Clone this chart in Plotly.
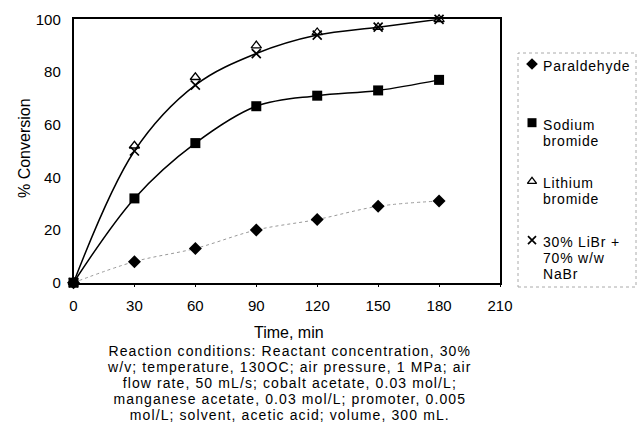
import plotly.graph_objects as go

time = [0, 30, 60, 90, 120, 150, 180]
paraldehyde = [0, 8, 13, 20, 24, 29, 31]
sodium_bromide = [0, 32, 53, 67, 71, 73, 77]
lithium_bromide = [0, 52, 78, 90, 95, 97, 100]
mix = [0, 50, 75, 87, 94, 97, 100]

x_ticks = [0, 30, 60, 90, 120, 150, 180, 210]
y_ticks = [0, 20, 40, 60, 80, 100]

legend_lines = [["Paraldehyde"], ["Sodium", "bromide"], ["Lithium", "bromide"], ["30% LiBr +", "70% w/w", "NaBr"]]

x_title = "Time, min"
caption_lines = ["Reaction conditions: Reactant concentration, 30%",
                 "w/v; temperature, 130OC; air pressure, 1 MPa; air",
                 "flow rate, 50 mL/s; cobalt acetate, 0.03 mol/L;",
                 "manganese acetate, 0.03 mol/L; promoter, 0.005",
                 "mol/L; solvent, acetic acid; volume, 300 mL."]

W, H = 639, 428
def px(x):
    return x / W
def py(y):
    return 1 - y / H

FONT = "Liberation Sans, Arial, sans-serif"
font = dict(family=FONT, size=16, color="black")
tickfont = dict(family=FONT, size=15, color="black")

def block(lines, glyph_px, spacing_px, ls_px):
    """multi-line text: line spacing from base font, glyph size / tracking from span style"""
    body = "<br>".join('<span style="font-size:%gpx;letter-spacing:%gpx">%s</span>' % (glyph_px, ls_px, t)
                       for t in lines)
    return body, dict(family=FONT, size=spacing_px / 1.3, color="black")

fig = go.Figure()
# fitted curves
fig.add_trace(go.Scatter(x=time, y=paraldehyde, mode="lines",
                         line=dict(color="#999", width=1, dash="dot", shape="spline", smoothing=1.0), showlegend=False))
fig.add_trace(go.Scatter(x=time, y=sodium_bromide, mode="lines",
                         line=dict(color="black", width=1.5, shape="spline", smoothing=1.0), showlegend=False))
fig.add_trace(go.Scatter(x=time, y=mix, mode="lines",
                         line=dict(color="black", width=1.5, shape="spline", smoothing=1.0), showlegend=False))

symbols = [dict(symbol="diamond", size=10, color="black"),
           dict(symbol="square", size=10, color="black"),
           dict(symbol="triangle-up-open", size=9, color="black", line=dict(width=1.3, color="black")),
           dict(symbol="x-thin-open", size=9, color="black", line=dict(width=1.7, color="black"))]
series = [paraldehyde, sodium_bromide, lithium_bromide, mix]
for s, m in zip(series, symbols):
    fig.add_trace(go.Scatter(x=time, y=s, mode="markers", marker=m, showlegend=False, cliponaxis=False))

# manual legend (second hidden axis in pixel units)
item_y0, item_pitch, line_h = 64, 58.7, 16
annotations = []
for i, (lines, m) in enumerate(zip(legend_lines, symbols)):
    yy = item_y0 + i * item_pitch
    m2 = dict(m)
    m2["size"] = m["size"] - 1
    fig.add_trace(go.Scatter(x=[532], y=[yy], mode="markers", marker=m2, showlegend=False,
                             xaxis="x2", yaxis="y2", cliponaxis=False))
    body, f = block(lines, 14, line_h, 0.8)
    annotations.append(dict(text=body, xref="paper", yref="paper", x=px(541), y=py(yy - 8),
                            xanchor="left", yanchor="top", align="left", showarrow=False, font=f))

annotations.append(dict(text=x_title, xref="paper", yref="paper", x=px(289), y=py(332),
                        xanchor="center", yanchor="middle", showarrow=False, font=font))
body, f = block(caption_lines, 14, 16, 1.1)
annotations.append(dict(text=body, xref="paper", yref="paper", x=px(289), y=py(341),
                        xanchor="center", yanchor="top", align="center", showarrow=False, font=f))

annotations.append(dict(text="% Conversion", textangle=-90, xref="paper", yref="paper", x=px(25), y=py(148),
                        xanchor="center", yanchor="middle", showarrow=False, font=font))

x0, x1, y0, y1 = 73.5, 500, 19.3, 282.7
fig.update_layout(
    width=W, height=H,
    margin=dict(l=0, r=0, t=0, b=0, autoexpand=False),
    paper_bgcolor="white", plot_bgcolor="white",
    font=font,
    showlegend=False,
    xaxis=dict(domain=[px(x0), px(x1)], range=[0, 210], tickvals=x_ticks, ticks="outside", ticklen=3,
               tickcolor="black", showline=True, linecolor="black", linewidth=1.5, mirror=True,
               showgrid=False, zeroline=False, tickfont=tickfont, ticklabelstandoff=6, automargin=False),
    yaxis=dict(domain=[py(y1), py(y0)], range=[0, 100], tickvals=y_ticks, ticks="",
               showline=True, linecolor="black", linewidth=1.5, mirror=True, showgrid=False,
               zeroline=False, tickfont=tickfont, ticklabelstandoff=8, automargin=False),
    xaxis2=dict(domain=[px(518), px(636)], range=[518, 636], visible=False, anchor="y2", automargin=False),
    yaxis2=dict(domain=[py(287), py(53)], range=[287, 53], visible=False, anchor="x2", automargin=False),
    annotations=annotations,
    shapes=[dict(type="rect", xref="paper", yref="paper", x0=px(518), x1=px(636), y0=py(287), y1=py(53),
                 line=dict(color="#aaa", width=1, dash="dot"))],
)

fig.write_html("out.html")
